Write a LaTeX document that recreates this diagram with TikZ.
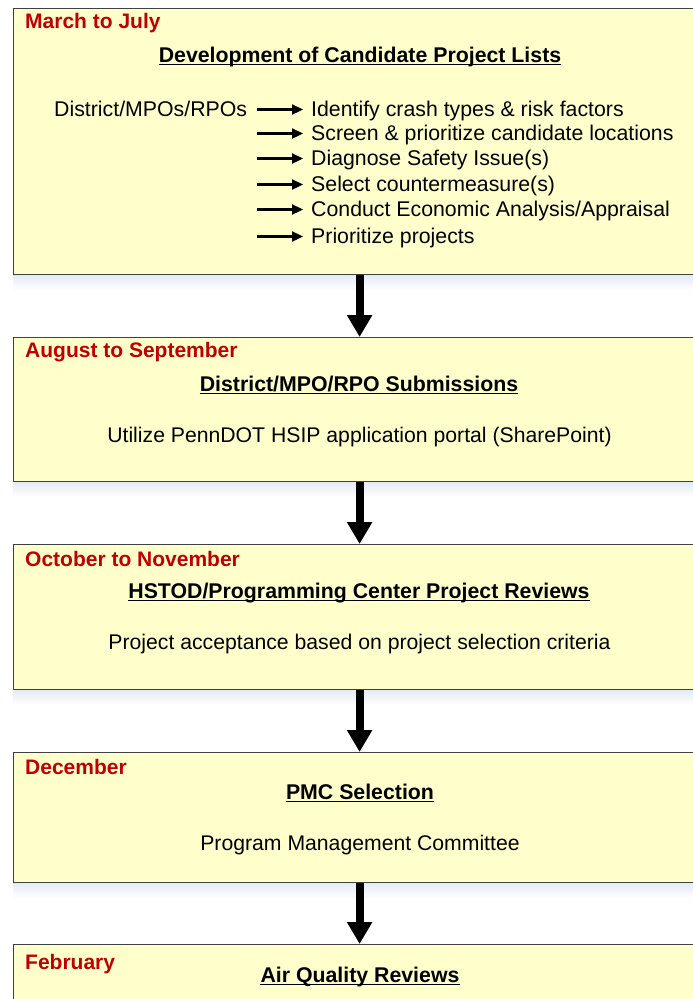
\documentclass[tikz,border=0pt]{standalone}
\usepackage{fontspec}
\setmainfont{Liberation Sans}
\usetikzlibrary{arrows.meta}
\definecolor{boxfill}{HTML}{FFFFCC}
\definecolor{hdrred}{HTML}{C00000}
\definecolor{boxline}{HTML}{404040}
\definecolor{shadowblue}{HTML}{E2EAF5}
\tikzset{
  stagebox/.style={draw=boxline, line width=1.2pt, fill=boxfill, anchor=north west, minimum width=692pt, inner sep=0pt},
  hdr/.style={anchor=base west, inner sep=0pt, text=hdrred, font=\fontsize{21}{24}\selectfont\bfseries},
  ttl/.style={anchor=base, inner sep=0pt, font=\fontsize{21.3}{24}\selectfont\bfseries},
  bodytext/.style={anchor=base, inner sep=0pt, font=\fontsize{21.2}{25}\selectfont},
  itemtext/.style={anchor=base west, inner sep=0pt, font=\fontsize{21.3}{25}\selectfont},
  bigarrow/.style={line width=8pt, -{Triangle[width=24pt,length=22pt]}},
  smallarrow/.style={line width=2.3pt, -{Triangle[width=10pt,length=11pt]}},
  uline/.style={line width=1.6pt}
}
\newcommand{\ulnode}[1]{\draw[uline] ([yshift=-2.5pt]#1.base west) -- ([yshift=-2.5pt]#1.base east);}
\begin{document}
\begin{tikzpicture}[x=1pt,y=-1pt]
\useasboundingbox (0,0) rectangle (693,999);
\clip (0,0) rectangle (693,999);
\fill[white] (0,0) rectangle (693,999);
% faint shading under boxes
\shade[top color=shadowblue, bottom color=white] (13,274) rectangle (710,290);
\shade[top color=shadowblue, bottom color=white] (13,481) rectangle (710,497);
\shade[top color=shadowblue, bottom color=white] (13,689) rectangle (710,705);
\shade[top color=shadowblue, bottom color=white] (13,882) rectangle (710,898);
% boxes
\node[stagebox, minimum height=266pt] (b1) at (13,8) {};
\node[stagebox, minimum height=144pt] (b2) at (13,337) {};
\node[stagebox, minimum height=145pt] (b3) at (13,544) {};
\node[stagebox, minimum height=130pt] (b4) at (13,752) {};
\node[stagebox, minimum height=80pt] (b5) at (13,944) {};
% connectors
\draw[bigarrow] (b1.south) -- (b2.north);
\draw[bigarrow] (b2.south) -- (b3.north);
\draw[bigarrow] (b3.south) -- (b4.north);
\draw[bigarrow] (b4.south) -- (b5.north);
% box 1
\node[hdr] (h1) at (25,28) {March to July};
\node[ttl] (t1) at (360,62) {Development of Candidate Project Lists};
\ulnode{t1}
\node[itemtext] (src) at (54,116) {District/MPOs/RPOs};
\node[itemtext] (i1) at (311,116) {Identify crash types \& risk factors};
\node[itemtext] (i2) at (311,140) {Screen \& prioritize candidate locations};
\node[itemtext] (i3) at (311,165) {Diagnose Safety Issue(s)};
\node[itemtext] (i4) at (311,191) {Select countermeasure(s)};
\node[itemtext] (i5) at (311,216) {Conduct Economic Analysis/Appraisal};
\node[itemtext] (i6) at (311,243) {Prioritize projects};
\foreach \n/\y in {1/109.5,2/133.5,3/158.5,4/184.5,5/209.5,6/236.5}{
  \coordinate (a\n) at (257,\y);
  \coordinate (e\n) at (303,\y);
  \draw[smallarrow] (a\n) -- (e\n);
}
% box 2
\node[hdr] (h2) at (25,357) {August to September};
\node[ttl] (t2) at (359,391) {District/MPO/RPO Submissions};
\ulnode{t2}
\node[bodytext] (d2) at (359.5,442) {Utilize PennDOT HSIP application portal (SharePoint)};
% box 3
\node[hdr] (h3) at (25,566) {October to November};
\node[ttl] (t3) at (359,598) {HSTOD/Programming Center Project Reviews};
\ulnode{t3}
\node[bodytext] (d3) at (359.5,649) {Project acceptance based on project selection criteria};
% box 4
\node[hdr] (h4) at (25,774) {December};
\node[ttl] (t4) at (360,799) {PMC Selection};
\ulnode{t4}
\node[bodytext] (d4) at (360,850) {Program Management Committee};
% box 5
\node[hdr] (h5) at (25,969) {February};
\node[ttl] (t5) at (360,982) {Air Quality Reviews};
\ulnode{t5}
\end{tikzpicture}
\end{document}
